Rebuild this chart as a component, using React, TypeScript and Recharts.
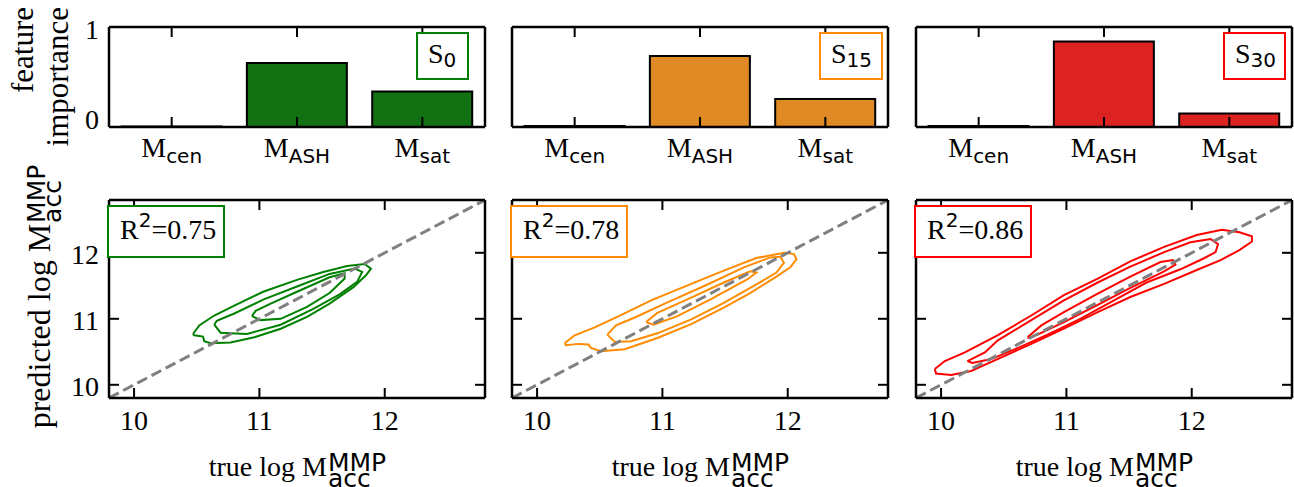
import React from "react";
import { BarChart, Bar, LineChart, Line, XAxis, YAxis, ReferenceLine } from "recharts";

const SERIF = "'Liberation Serif', 'Times New Roman', serif";
const SANS = "'DejaVu Sans', sans-serif";

// top row: feature importance per sample
const features = ["cen", "ASH", "sat"];
const importanceS0 = [0.005, 0.64, 0.355];
const importanceS15 = [0.01, 0.71, 0.28];
const importanceS30 = [0.01, 0.855, 0.135];
const importanceTicks = [0, 1];
const sampleNames = ["0", "15", "30"];

// bottom row: predicted vs true
const r2Scores = ["0.75", "0.78", "0.86"];
const massTicks = [10, 11, 12];
const massDomain: [number, number] = [9.8, 12.8];
const oneToOne = [
  { x: 9.8, y: 9.8 },
  { x: 12.8, y: 12.8 },
];

// density contours (outer, middle, inner), [true, predicted]
const s0Outer = [[10.47,10.77],[10.52,10.90],[10.64,11.05],[10.80,11.20],[11.03,11.41],[11.30,11.59],[11.51,11.71],[11.70,11.80],[11.84,11.83],[11.89,11.76],[11.85,11.66],[11.75,11.48],[11.56,11.23],[11.38,11.03],[11.17,10.85],[10.96,10.72],[10.77,10.64],[10.61,10.63],[10.56,10.66],[10.55,10.73],[10.48,10.75]];
const s0Mid = [[10.64,10.91],[10.69,10.79],[10.90,10.77],[11.17,10.91],[11.43,11.15],[11.64,11.37],[11.78,11.56],[11.82,11.71],[11.76,11.76],[11.56,11.68],[11.30,11.49],[11.03,11.29],[10.80,11.08],[10.66,10.97]];
const s0Inner = [[10.94,11.04],[11.01,10.98],[11.17,11.00],[11.38,11.18],[11.56,11.39],[11.68,11.61],[11.68,11.69],[11.56,11.63],[11.30,11.41],[11.09,11.23],[10.97,11.12]];

const s15Outer = [[10.22,10.63],[10.30,10.75],[10.46,10.87],[10.64,11.03],[10.91,11.28],[11.23,11.53],[11.49,11.73],[11.75,11.92],[11.97,12.00],[12.05,11.98],[12.07,11.90],[12.02,11.78],[11.91,11.64],[11.70,11.39],[11.49,11.17],[11.23,10.92],[10.96,10.71],[10.70,10.54],[10.51,10.51],[10.43,10.56],[10.41,10.61],[10.33,10.62],[10.23,10.60]];
const s15Mid = [[10.56,10.76],[10.63,10.90],[10.78,11.02],[11.04,11.25],[11.36,11.52],[11.65,11.78],[11.86,11.93],[11.94,11.94],[11.97,11.85],[11.91,11.70],[11.75,11.52],[11.49,11.24],[11.23,10.99],[10.96,10.78],[10.75,10.66],[10.62,10.65]];
const s15Inner = [[10.87,10.95],[10.96,11.09],[11.23,11.32],[11.49,11.55],[11.70,11.72],[11.75,11.70],[11.68,11.60],[11.38,11.29],[11.12,11.04],[10.93,10.91]];

const s30Outer = [[9.95,10.24],[10.03,10.36],[10.19,10.49],[10.45,10.75],[10.72,11.05],[10.98,11.36],[11.25,11.61],[11.51,11.87],[11.78,12.09],[12.04,12.27],[12.24,12.35],[12.38,12.31],[12.48,12.25],[12.48,12.17],[12.38,12.04],[12.23,11.89],[12.04,11.74],[11.78,11.53],[11.51,11.33],[11.25,11.10],[10.98,10.85],[10.72,10.62],[10.45,10.39],[10.24,10.21],[10.08,10.15],[9.96,10.17]];
const s30Mid = [[10.21,10.36],[10.35,10.49],[10.45,10.67],[10.72,10.98],[10.98,11.28],[11.25,11.55],[11.51,11.79],[11.78,12.01],[11.99,12.16],[12.15,12.21],[12.21,12.13],[12.19,12.01],[12.09,11.91],[11.91,11.75],[11.64,11.55],[11.38,11.28],[11.11,11.00],[10.85,10.76],[10.59,10.54],[10.40,10.39],[10.25,10.33]];
const s30Inner = [[10.69,10.72],[10.80,10.90],[10.98,11.10],[11.25,11.38],[11.51,11.64],[11.75,11.86],[11.85,11.89],[11.87,11.82],[11.78,11.72],[11.51,11.47],[11.25,11.21],[10.98,10.95],[10.77,10.76],[10.70,10.71]];

const barColors = ["#137113", "#df8a24", "#dd2222"];
const lineColors = ["#008000", "#ff8c00", "#ff0000"];

// panel geometry (page pixels)
const panelLefts = [109, 512, 916];
const PANEL_W = 376;
const BAR_TOP = 27;
const BAR_BOTTOM = 127;
const PRED_TOP = 200;
const PRED_BOTTOM = 398;
const TICK = 10;

const frame = { stroke: "#000", strokeWidth: 2.5 };
const noTickLine = { tickSize: 0, tickMargin: 0, tickLine: false, axisLine: frame };

const closed = (pts: number[][]) =>
  [...pts, pts[0]].map(([x, y]) => ({ x, y }));

const CatBottomTick = (p: any) => (
  <text x={p.x} y={p.y + 30} textAnchor="middle" fill="#000" fontFamily={SERIF} fontSize={28}>
    M
    <tspan fontFamily={SANS} fontSize={20} dy={6}>
      {p.payload.value}
    </tspan>
  </text>
);

const NumBottomTick = (p: any) => (
  <text x={p.x} y={p.y + 32} textAnchor="middle" fill="#000" fontFamily={SERIF} fontSize={28}>
    {p.payload.value}
  </text>
);

const makeLeftTick = (showLabel: boolean, baseline: (v: number) => number) => (p: any) =>
  showLabel ? (
    <text x={p.x - 10} y={p.y + baseline(p.payload.value)} textAnchor="end" fill="#000" fontFamily={SERIF} fontSize={28}>
      {p.payload.value}
    </text>
  ) : (
    <g />
  );

// bottom/left axes + reference lines for the top/right frame edges
function ImportancePanel({ idx, values }: { idx: number; values: number[] }) {
  const data = features.map((f, i) => ({ name: f, value: values[i] }));
  return (
    <div style={{ position: "absolute", left: panelLefts[idx] - 70, top: 0 }}>
      <BarChart
        width={PANEL_W + 90}
        height={175}
        data={data}
        margin={{ top: BAR_TOP, right: 20, bottom: 47, left: 69 }}
        barCategoryGap="10%"
      >
        <XAxis dataKey="name" height={1} interval={0} {...noTickLine} tick={CatBottomTick} />
        <YAxis
          type="number"
          domain={[0, 1]}
          ticks={importanceTicks}
          width={1}
          {...noTickLine}
          tick={makeLeftTick(idx === 0, (v) => (v === 1 ? 12 : 2))}
        />
        <Bar dataKey="value" fill={barColors[idx]} stroke="#000" strokeWidth={2} isAnimationActive={false} />
        <ReferenceLine y={1} {...frame} />
        <ReferenceLine x={features[features.length - 1]} position="end" {...frame} />
      </BarChart>
    </div>
  );
}

function PredictionPanel({ idx, contours }: { idx: number; contours: number[][][] }) {
  const hi = massDomain[1];
  return (
    <div style={{ position: "absolute", left: panelLefts[idx] - 70, top: 150 }}>
      <LineChart width={PANEL_W + 90} height={340} margin={{ top: PRED_TOP - 150, right: 20, bottom: 91, left: 69 }}>
        <XAxis type="number" dataKey="x" domain={massDomain} ticks={massTicks} allowDataOverflow height={1} {...noTickLine} tick={NumBottomTick} />
        <YAxis
          type="number"
          dataKey="y"
          domain={massDomain}
          ticks={massTicks}
          allowDataOverflow
          width={1}
          {...noTickLine}
          tick={makeLeftTick(idx === 0, () => 11)}
        />
        {contours.map((c, k) => (
          <Line
            key={k}
            data={closed(c)}
            dataKey="y"
            type="linear"
            stroke={lineColors[idx]}
            strokeWidth={2}
            dot={false}
            activeDot={false}
            isAnimationActive={false}
          />
        ))}
        <Line
          data={oneToOne}
          dataKey="y"
          type="linear"
          stroke="#808080"
          strokeWidth={3}
          strokeDasharray="11 5"
          dot={false}
          activeDot={false}
          isAnimationActive={false}
        />
        <ReferenceLine y={hi} {...frame} />
        <ReferenceLine x={hi} {...frame} />
      </LineChart>
    </div>
  );
}

// inward tick marks on all four sides of each panel
function PanelTicks({ L }: { L: number }) {
  const span = massDomain[1] - massDomain[0];
  const px = (v: number) => L + ((v - massDomain[0]) / span) * PANEL_W;
  const py = (v: number) => PRED_BOTTOM - ((v - massDomain[0]) / span) * (PRED_BOTTOM - PRED_TOP);
  const cat = (i: number) => L + ((i + 0.5) * PANEL_W) / features.length;
  const s = { stroke: "#000", strokeWidth: 2 };
  return (
    <g>
      {features.map((f, i) => (
        <g key={f}>
          <line x1={cat(i)} x2={cat(i)} y1={BAR_BOTTOM} y2={BAR_BOTTOM - TICK} {...s} />
          <line x1={cat(i)} x2={cat(i)} y1={BAR_TOP} y2={BAR_TOP + TICK} {...s} />
        </g>
      ))}
      {massTicks.map((t) => (
        <g key={t}>
          <line x1={px(t)} x2={px(t)} y1={PRED_BOTTOM} y2={PRED_BOTTOM - TICK} {...s} />
          <line x1={px(t)} x2={px(t)} y1={PRED_TOP} y2={PRED_TOP + TICK} {...s} />
          <line x1={L} x2={L + TICK} y1={py(t)} y2={py(t)} {...s} />
          <line x1={L + PANEL_W} x2={L + PANEL_W - TICK} y1={py(t)} y2={py(t)} {...s} />
        </g>
      ))}
    </g>
  );
}

// "... log M^MMP_acc" drawn around a centre point, scripts stacked
function MassLabel({ prefix, cx, baseY, size, rotate }: { prefix: string; cx: number; baseY: number; size: number; rotate?: boolean }) {
  const ems = prefix === "true" ? 4.222 : 6.388;
  const mainW = ems * size;
  const scriptSize = 25;
  const total = mainW + 2.33 * scriptSize;
  const x0 = -total / 2 + mainW;
  const tf = rotate ? `translate(${cx},${baseY}) rotate(-90)` : `translate(${cx},${baseY})`;
  return (
    <g transform={tf}>
      <text x={x0} y={0} textAnchor="end" fontFamily={SERIF} fontSize={size} fill="#000">
        {prefix} log M
      </text>
      <text x={x0 + 1} y={-5} fontFamily={SANS} fontSize={scriptSize} fill="#000">
        MMP
      </text>
      <text x={x0 + 1} y={11} fontFamily={SANS} fontSize={scriptSize} fill="#000">
        acc
      </text>
    </g>
  );
}

const sBoxW = [51, 62, 61];

export default function App() {
  const importance = [importanceS0, importanceS15, importanceS30];
  const contourSets = [
    [s0Outer, s0Mid, s0Inner],
    [s15Outer, s15Mid, s15Inner],
    [s30Outer, s30Mid, s30Inner],
  ];
  return (
    <div style={{ position: "absolute", left: 0, top: 0, width: 1294, height: 487, background: "#fff", overflow: "hidden" }}>
      {importance.map((v, i) => (
        <ImportancePanel key={i} idx={i} values={v} />
      ))}
      {contourSets.map((c, i) => (
        <PredictionPanel key={i} idx={i} contours={c} />
      ))}
      <svg width={1294} height={487} style={{ position: "absolute", left: 0, top: 0, pointerEvents: "none" }}>
        <text transform="translate(33,7) rotate(-90)" textAnchor="end" fontFamily={SERIF} fontSize={31} fill="#000">
          feature
        </text>
        <text transform="translate(68,7) rotate(-90)" textAnchor="end" fontFamily={SERIF} fontSize={31} fill="#000">
          importance
        </text>
        <MassLabel prefix="predicted" cx={50} baseY={297} size={32} rotate />
        {panelLefts.map((L, i) => (
          <g key={i}>
            <PanelTicks L={L} />
            <MassLabel prefix="true" cx={L + PANEL_W / 2} baseY={476} size={28} />
            <rect x={L + 308} y={33} width={sBoxW[i]} height={46} fill="#fff" stroke={lineColors[i]} strokeWidth={2} />
            <text x={L + 319} y={63} fontFamily={SERIF} fontSize={28} fill="#000">
              S
              <tspan fontFamily={SANS} fontSize={20} dy={4}>
                {sampleNames[i]}
              </tspan>
            </text>
            <rect x={L - 1} y={206} width={116} height={51} fill="#fff" stroke={lineColors[i]} strokeWidth={2} />
            <text x={L + 11} y={239} fontFamily={SERIF} fontSize={28} fill="#000">
              R
              <tspan fontFamily={SANS} fontSize={20} dy={-12}>
                2
              </tspan>
              <tspan dy={12}>={r2Scores[i]}</tspan>
            </text>
          </g>
        ))}
      </svg>
    </div>
  );
}
